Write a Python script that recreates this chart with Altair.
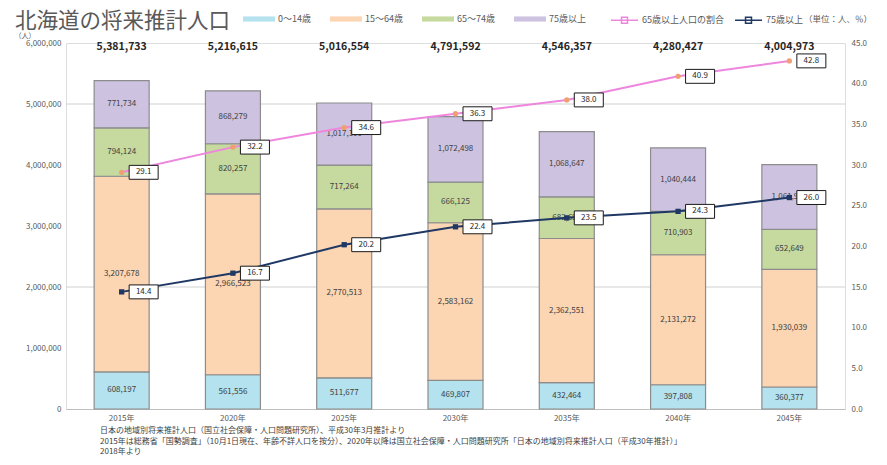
import altair as alt
import pandas as pd

FONT = "Noto Sans CJK JP"

years = ["2015年", "2020年", "2025年", "2030年", "2035年", "2040年", "2045年"]
totals = [5381733, 5216615, 5016554, 4791592, 4546357, 4280427, 4004973]
age_groups = ["0～14歳", "15～64歳", "65～74歳", "75歳以上"]
pop_0_14 = [608197, 561556, 511677, 469807, 432464, 397808, 360377]
pop_15_64 = [3207678, 2966523, 2770513, 2583162, 2362551, 2131272, 1930039]
pop_65_74 = [794124, 820257, 717264, 666125, 682695, 710903, 652649]
pop_75 = [771734, 868279, 1017100, 1072498, 1068647, 1040444, 1061908]
line_series = ["65歳以上人口の割合", "75歳以上"]
ratio_65 = [29.1, 32.2, 34.6, 36.3, 38.0, 40.9, 42.8]
ratio_75 = [14.4, 16.7, 20.2, 22.4, 23.5, 24.3, 26.0]
left_ticks = [0, 1000000, 2000000, 3000000, 4000000, 5000000, 6000000]
right_ticks = [0, 5, 10, 15, 20, 25, 30, 35, 40, 45]
gridlines = [2000000, 5000000]
title_text = "北海道の将来推計人口"
unit_text = "（単位：人、％）"
notes = [
    "日本の地域別将来推計人口（国立社会保障・人口問題研究所）、平成30年3月推計より",
    "2015年は総務省「国勢調査」（10月1日現在、年齢不詳人口を按分）、2020年以降は国立社会保障・人口問題研究所「日本の地域別将来推計人口（平成30年推計）」",
    "2018年より",
]

bar_colors = ["#B4E2EE", "#FCD5B2", "#C6DA9F", "#CDC3E0"]
line_colors = ["#EE86DE", "#1F3864"]
marker_colors = ["#F0A070", "#1F3864"]
marker_shapes = ["circle", "square"]

rows = []
for i, yr in enumerate(years):
    for o, (g, arr) in enumerate(zip(age_groups, [pop_0_14, pop_15_64, pop_65_74, pop_75])):
        rows.append({"year": yr, "group": g, "value": arr[i], "order": o})
bar_df = pd.DataFrame(rows)
total_df = pd.DataFrame({"year": years, "total": totals})
line_rows = []
for s, arr in zip(line_series, [ratio_65, ratio_75]):
    for yr, v in zip(years, arr):
        line_rows.append({"year": yr, "series": s, "ratio": v})
line_df = pd.DataFrame(line_rows)
grid_df = pd.DataFrame({"v": gridlines})
one = pd.DataFrame({"k": [0]})

xaxis = alt.Axis(title=None, labelAngle=0, ticks=False, domainColor="#bfbfbf",
                 labelFontSize=8, labelColor="#595959", labelPadding=5, labelFont=FONT)
xenc = alt.X("year:N", sort=years, scale=alt.Scale(paddingInner=0.5, paddingOuter=0.25), axis=xaxis)

yleft_scale = alt.Scale(domain=[0, 6000000], nice=False)
yright_scale = alt.Scale(domain=[0, 45], nice=False)
left_axis = alt.Axis(title="（人）", titleAngle=0, titleX=-52, titleY=-8, titleAlign="left",
                     titleBaseline="middle", titleFontSize=7, titleFontWeight="normal",
                     titleColor="#595959", titleFont=FONT,
                     values=left_ticks, format=",d", ticks=False, domain=False, grid=False,
                     labelFontSize=8, labelColor="#595959", labelPadding=5, labelFont=FONT)
right_axis = alt.Axis(orient="right", title=None, values=right_ticks, format=".1f",
                      ticks=False, domain=False, grid=False, labelAlign="left",
                      labelFontSize=8, labelColor="#595959", labelPadding=6, labelFont=FONT)

rules = alt.Chart(grid_df).mark_rule(color="#d0d0d0", strokeWidth=1).encode(
    y=alt.Y("v:Q", scale=yleft_scale, axis=left_axis))

bars = alt.Chart(bar_df).mark_bar(size=55, stroke="#8c8c8c", strokeWidth=1.2).encode(
    x=xenc,
    y=alt.Y("value:Q", stack="zero", scale=yleft_scale, axis=left_axis),
    fill=alt.Fill("group:N", scale=alt.Scale(domain=age_groups, range=bar_colors),
                  legend=alt.Legend(title=None, orient="none", legendX=177, legendY=-40,
                                    direction="horizontal",
                                    symbolType="M-1,-0.16H1V0.16H-1Z", symbolSize=1024,
                                    symbolStrokeWidth=0, labelFontSize=9, labelFont=FONT,
                                    labelColor="#595959", columnPadding=19, labelOffset=3)),
    order=alt.Order("order:Q", sort="ascending"),
)

seg_labels = alt.Chart(bar_df).transform_stack(
    stack="value", groupby=["year"], sort=[alt.SortField("order", "ascending")], as_=["y0", "y1"]
).transform_calculate(mid="(datum.y0 + datum.y1) / 2").mark_text(
    fontSize=8, color="#404040", font=FONT).encode(
    x=alt.X("year:N", sort=years, axis=xaxis),
    y=alt.Y("mid:Q", scale=yleft_scale, axis=left_axis),
    text=alt.Text("value:Q", format=",d"),
)

total_labels = alt.Chart(total_df).mark_text(
    fontSize=10.5, fontWeight="bold", color="#262626", font=FONT).encode(
    x=alt.X("year:N", sort=years, axis=xaxis), y=alt.value(4), text=alt.Text("total:Q", format=",d"))

title_mark = alt.Chart(one).mark_text(
    fontSize=21.5, color="#595959", align="left", baseline="middle", font=FONT).encode(
    x=alt.value(-51), y=alt.value(-21), text=alt.value(title_text))

unit_mark = alt.Chart(one).mark_text(
    fontSize=8.5, color="#595959", align="right", baseline="middle", font=FONT).encode(
    x=alt.value(806), y=alt.value(-24), text=alt.value(unit_text))

notes_mark = alt.Chart(one).mark_text(
    fontSize=8, color="#404040", align="left", baseline="top", font=FONT,
    lineBreak="\n", lineHeight=10.5).encode(
    x=alt.value(34), y=alt.value(384), text=alt.value("\n".join(notes)))

left = alt.layer(rules, bars, seg_labels, total_labels, title_mark, unit_mark, notes_mark)

lines = alt.Chart(line_df).mark_line(strokeWidth=2).encode(
    x=alt.X("year:N", sort=years, axis=xaxis),
    y=alt.Y("ratio:Q", scale=yright_scale, axis=right_axis),
    stroke=alt.Stroke("series:N", scale=alt.Scale(domain=line_series, range=line_colors),
                      legend=alt.Legend(title=None, orient="none", legendX=544, legendY=-37.5,
                                        direction="horizontal",
                                        symbolType="M-1,0H1M-0.22,-0.22H0.22V0.22H-0.22Z",
                                        symbolSize=729, symbolStrokeWidth=1.5,
                                        labelFontSize=9, labelFont=FONT, labelColor="#595959",
                                        columnPadding=8, labelOffset=3)),
)

point_layers = []
for s, c, shp in zip(line_series, marker_colors, marker_shapes):
    point_layers.append(
        alt.Chart(line_df).transform_filter(alt.datum.series == s).mark_point(
            filled=True, size=28, opacity=1, color=c, shape=shp).encode(
            x=alt.X("year:N", sort=years, axis=xaxis),
            y=alt.Y("ratio:Q", scale=yright_scale, axis=right_axis),
        )
    )

boxes = alt.Chart(line_df).mark_point(
    shape="M-1,-0.48H1V0.48H-1Z", size=841, filled=True, fill="white", stroke="#1a1a1a",
    strokeWidth=1, opacity=1, xOffset=22).encode(
    x=alt.X("year:N", sort=years, axis=xaxis),
    y=alt.Y("ratio:Q", scale=yright_scale, axis=right_axis),
)

box_text = alt.Chart(line_df).mark_text(fontSize=8, color="#262626", dx=22, font=FONT).encode(
    x=alt.X("year:N", sort=years, axis=xaxis),
    y=alt.Y("ratio:Q", scale=yright_scale, axis=right_axis),
    text=alt.Text("ratio:Q", format=".1f"),
)

right = alt.layer(lines, *point_layers, boxes, box_text)

chart = alt.layer(left, right).resolve_scale(y="independent").properties(
    width=779, height=366,
    autosize=alt.AutoSizeParams(type="none"),
    padding={"left": 58, "top": 35, "right": 30, "bottom": 48},
).configure_view(stroke=None).configure(font=FONT)

chart.save("out.html", embed_options={"renderer": "svg", "actions": False})
